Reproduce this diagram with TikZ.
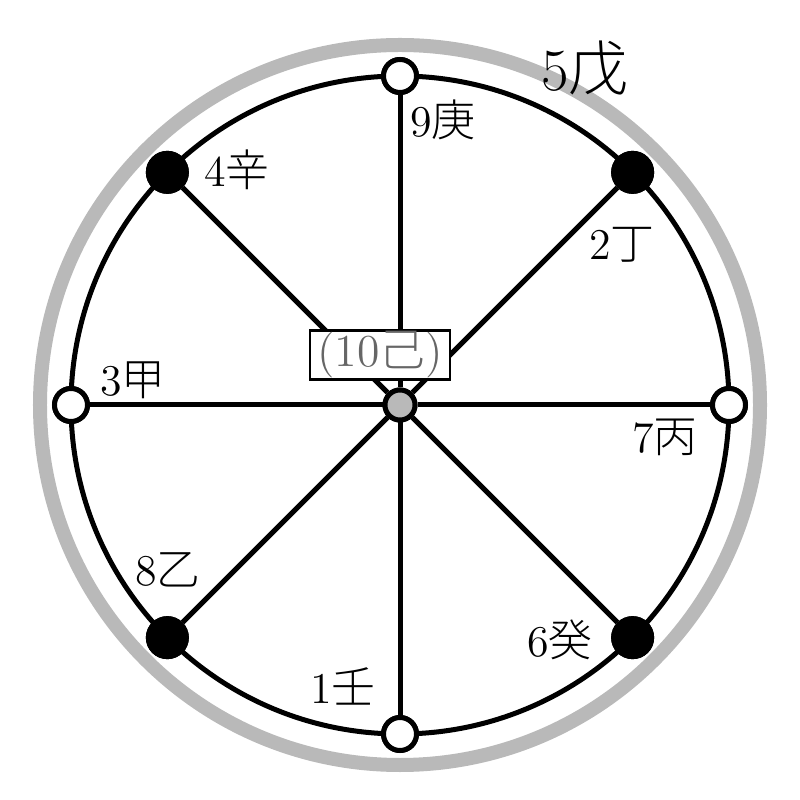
\documentclass[tikz,border=0pt]{standalone}
\usepackage{fontspec}
\newfontfamily\cjk{Noto Sans CJK JP Light}
\usetikzlibrary{calc}

\begin{document}
\begin{tikzpicture}[line width=0.05cm,
    every node/.style={inner sep=0pt},
    open/.style={circle,draw,fill=white,minimum size=0.33cm},
    full/.style={circle,draw,fill=black,minimum size=0.38cm},
    lbl/.style={font=\fontsize{12.5}{14}\selectfont}]
    \useasboundingbox (-4.0,-3.95) rectangle (4.0,4.05);

    % rings
    \draw[gray!55,line width=0.14cm] (0,0) circle (3.6);
    \draw (0,0) circle (3.29);

    % stem nodes on the ring
    \node[open] (n0) at (0:3.29) {};
    \node[full] (n45) at (45:3.29) {};
    \node[open] (n90) at (90:3.29) {};
    \node[full] (n135) at (135:3.29) {};
    \node[open] (n180) at (180:3.29) {};
    \node[full] (n225) at (225:3.29) {};
    \node[open] (n270) at (270:3.29) {};
    \node[full] (n315) at (315:3.29) {};
    \node[circle,draw,fill=gray!55,minimum size=0.30cm] (c) at (0,0) {};

    \foreach \a in {0,45,...,315}
      \draw (c) -- (n\a);

    % redraw nodes over spokes
    \foreach \a in {0,90,180,270}
      \node[open] at (n\a) {};
    \foreach \a in {45,135,225,315}
      \node[full] at (n\a) {};
    \node[circle,draw,fill=gray!55,minimum size=0.30cm] at (c) {};

    \node[draw,line width=0.025cm,fill=white,text=black!60,inner xsep=0.05cm,
      minimum width=1.4cm,minimum height=0.49cm,font=\fontsize{13}{15}\selectfont]
      (ji) at (-0.2,0.5) {(10{\cjk 己})};

    % labels
    \node[font=\fontsize{17}{19}\selectfont] (wu) at (1.85,3.37) {5{\cjk 戊}};
    \node[lbl] (geng) at (0.43,2.85) {9{\cjk 庚}};
    \node[lbl] (xin) at (-1.63,2.35) {4{\cjk 辛}};
    \node[lbl] (ding) at (2.22,1.6) {2{\cjk 丁}};
    \node[lbl] (jia) at (-2.67,0.25) {3{\cjk 甲}};
    \node[lbl] (bing) at (2.65,-0.32) {7{\cjk 丙}};
    \node[lbl] (yi) at (-2.32,-1.65) {8{\cjk 乙}};
    \node[lbl] (gui) at (1.6,-2.35) {6{\cjk 癸}};
    \node[lbl] (ren) at (-0.57,-2.81) {1{\cjk 壬}};
\end{tikzpicture}
\end{document}
